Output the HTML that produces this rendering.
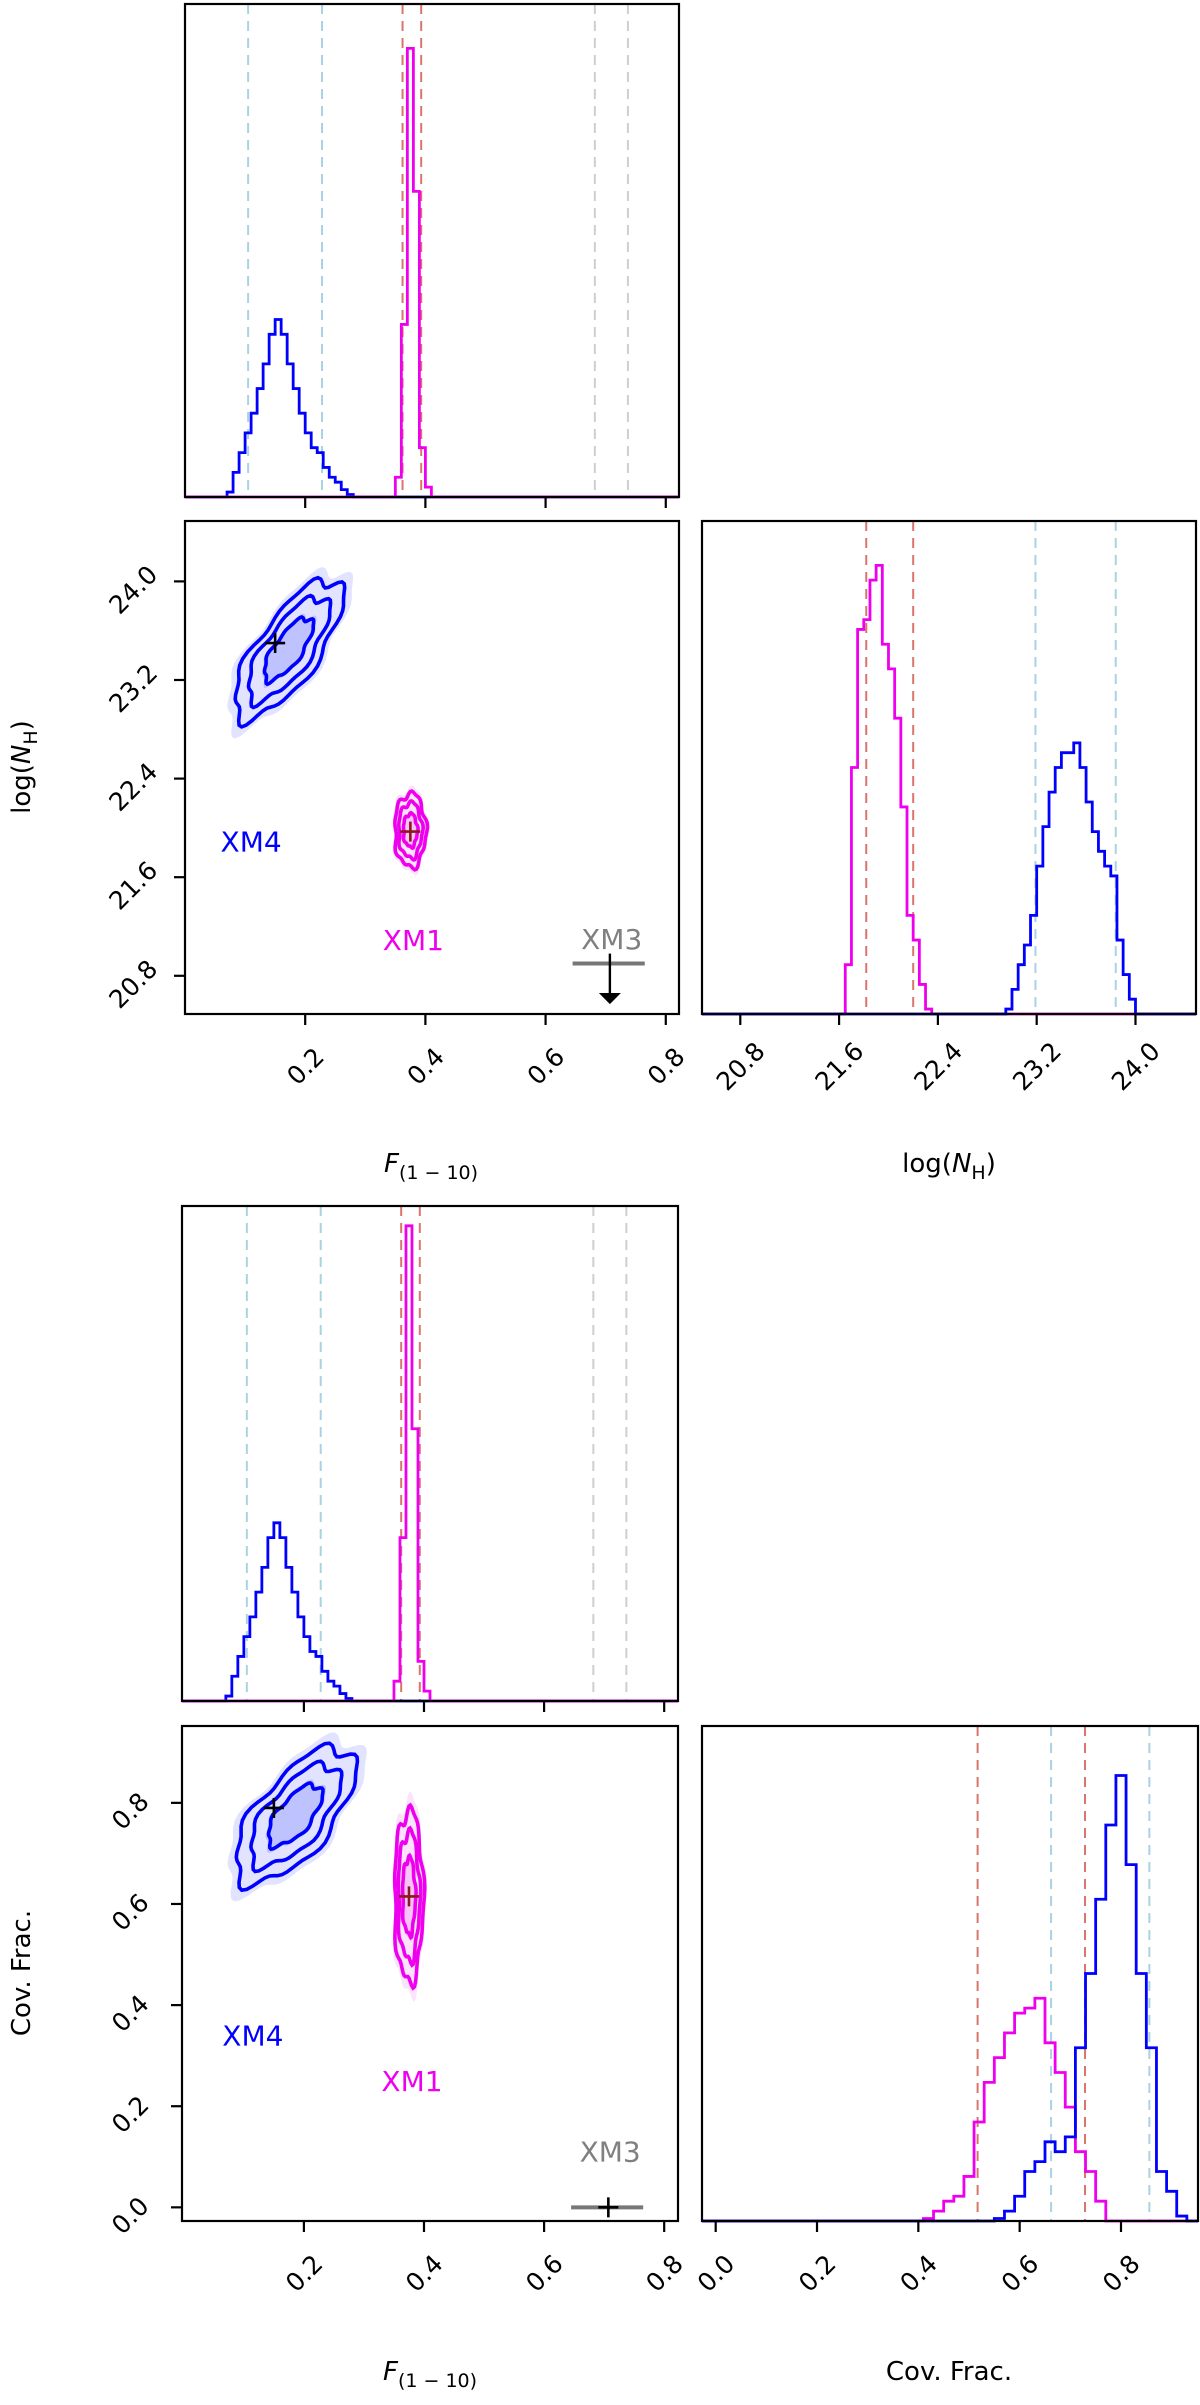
<!DOCTYPE html>
<html><head><meta charset="utf-8"><style>
body{margin:0;background:#fff}
svg{display:block;font-family:"DejaVu Sans","Liberation Sans",sans-serif}
</style></head><body>
<svg id="fig" width="1200" height="2405" viewBox="0 0 1200 2405" xmlns="http://www.w3.org/2000/svg"></svg>
<script>
// ---------- data ----------
const fTicks=[0.2,0.4,0.6,0.8];
const nhTicks=[20.8,21.6,22.4,23.2,24.0];
const covTicks=[0.0,0.2,0.4,0.6,0.8];
const fBinW=0.01;
const fBlueStart=0.07;
const fBlueCounts=[0.01,0.05,0.09,0.13,0.17,0.22,0.27,0.33,0.36,0.33,0.27,0.22,0.17,0.13,0.10,0.09,0.06,0.04,0.03,0.015,0.005];
const fMagStart=0.35;
const fMagCounts=[0.04,0.35,0.91,0.62,0.10,0.02];
const fMagCounts2=[0.04,0.33,0.96,0.55,0.08,0.02];
const fLinesBlue=[0.105,0.228];
const fLinesRed=[0.362,0.393];
const fLinesGray=[0.682,0.737];
const nhBinW=0.05;
const nhMagStart=21.65;
const nhMagCounts=[0.1,0.5,0.78,0.8,0.88,0.91,0.75,0.7,0.6,0.42,0.2,0.15,0.06,0.01];
const nhBlueStart=22.95;
const nhBlueCounts=[0.01,0.05,0.1,0.14,0.2,0.3,0.38,0.45,0.5,0.53,0.53,0.55,0.5,0.43,0.37,0.33,0.3,0.28,0.15,0.08,0.03];
const nhLinesRed=[21.82,22.2];
const nhLinesBlue=[23.19,23.84];
const covBinW=0.02;
const covMagStart=0.41;
const covMagCounts=[0.005,0.02,0.04,0.05,0.09,0.2,0.28,0.33,0.38,0.42,0.43,0.45,0.36,0.3,0.23,0.14,0.1,0.04];
const covBlueStart=0.55;
const covBlueCounts=[0.005,0.02,0.05,0.1,0.12,0.16,0.14,0.17,0.35,0.5,0.65,0.8,0.9,0.72,0.5,0.35,0.1,0.06,0.01];
const covLinesRed=[0.517,0.729];
const covLinesBlue=[0.662,0.856];
// contours: [cx, cy, majorDx, majorDy, minorDx, minorDy]
const c1Blue=[0.172,23.45,0.085,0.52,0.03,-0.22];
const c1Mag=[0.375,21.98,0.0,0.3,0.026,0.0];
const c2Blue=[0.185,0.775,0.095,0.115,0.03,-0.07];
const c2Mag=[0.375,0.615,0.0,0.17,0.024,0.0];
const levels=[0.45,0.75,1.0];
const best1Blue=[0.15,23.5], best1Mag=[0.375,21.97];
const best2Blue=[0.15,0.79], best2Mag=[0.375,0.615];

// ---------- helpers ----------
const svg=document.getElementById('fig');
const NS='http://www.w3.org/2000/svg';
function mk(tag,attrs,parent){const e=document.createElementNS(NS,tag);for(const k in attrs)e.setAttribute(k,attrs[k]);(parent||svg).appendChild(e);return e;}
function axes(x0,y0,w,h,xd,yd){return{x0,y0,w,h,sx:v=>x0+(v-xd[0])/(xd[1]-xd[0])*w,sy:v=>y0+h-(v-yd[0])/(yd[1]-yd[0])*h};}
function frame(a,name){const r=mk('rect',{x:a.x0,y:a.y0,width:a.w,height:a.h,fill:'none',stroke:'#000','stroke-width':2.2});}
function xticks(a,ticks,labels,name){ticks.forEach(t=>{const x=a.sx(t);mk('line',{x1:x,x2:x,y1:a.y0+a.h,y2:a.y0+a.h+11,stroke:'#000','stroke-width':2.2});
 if(labels){const tx=mk('text',{x:x,y:a.y0+a.h+61,'font-size':25,'text-anchor':'middle',transform:`rotate(-45 ${x} ${a.y0+a.h+52})`});tx.textContent=t.toFixed(1);}});}
function yticks(a,ticks,name){ticks.forEach(t=>{const y=a.sy(t);mk('line',{x1:a.x0-11,x2:a.x0,y1:y,y2:y,stroke:'#000','stroke-width':2.2});
 const cx=a.x0-52,cy=y+8;const tx=mk('text',{x:cx,y:cy+9,'font-size':25,'text-anchor':'middle',transform:`rotate(-45 ${cx} ${cy})`});tx.textContent=t.toFixed(1);});}
function hist(a,start,bw,counts,color,name){let d=`M${a.x0} ${a.sy(0)} L${a.sx(start)} ${a.sy(0)}`;counts.forEach((c,i)=>{const xa=a.sx(start+i*bw),xb=a.sx(start+(i+1)*bw);d+=` L${xa} ${a.sy(c)} L${xb} ${a.sy(c)}`;});
 d+=` L${a.sx(start+counts.length*bw)} ${a.sy(0)} L${a.x0+a.w} ${a.sy(0)}`;const p=mk('path',{d,fill:'none',stroke:color,'stroke-width':2.8});}
function vlines(a,vals,color,name){vals.forEach(v=>{const x=a.sx(v);const l=mk('line',{x1:x,x2:x,y1:a.y0,y2:a.y0+a.h,stroke:color,'stroke-width':2,'stroke-dasharray':'10,7'});});}
function ellPath(a,c,s){let d='';for(let i=0;i<=72;i++){const t=i/72*2*Math.PI;const wob=1+0.07*Math.sin(5*t)+0.05*Math.cos(9*t);
 const vx=c[0]+s*wob*(c[2]*Math.cos(t)+c[4]*Math.sin(t)),vy=c[1]+s*wob*(c[3]*Math.cos(t)+c[5]*Math.sin(t));d+=(i?'L':'M')+a.sx(vx).toFixed(1)+' '+a.sy(vy).toFixed(1);}return d+'Z';}
function contours(a,c,color,fill,name){mk('path',{d:ellPath(a,c,1.15),fill:fill,'fill-opacity':0.15,stroke:'none'});mk('path',{d:ellPath(a,c,0.5),fill:fill,'fill-opacity':0.2,stroke:'none'});
 levels.forEach(s=>{const p=mk('path',{d:ellPath(a,c,s),fill:'none',stroke:color,'stroke-width':3.6});});}
function cross(a,pt,color,name){const x=a.sx(pt[0]),y=a.sy(pt[1]);const g=mk('g',{stroke:color,'stroke-width':2.6});mk('line',{x1:x-10,x2:x+10,y1:y,y2:y},g);mk('line',{x1:x,x2:x,y1:y-10,y2:y+10},g);}
function label(x,y,txt,color,name,size){const t=mk('text',{x,y,'font-size':size||28,fill:color,'text-anchor':'middle'});t.textContent=txt;return t;}

// ---------- set 1 ----------
const fd1=[0,0.822], nhd=[20.49,24.49], covd=[-0.027,0.952];
const h1=axes(185,4,494,493,fd1,[0,1]);
vlines(h1,fLinesBlue,'#a9d3e3','f-quantile-line-xm4');vlines(h1,fLinesRed,'#d9756b','f-quantile-line-xm1');vlines(h1,fLinesGray,'#cfcfcf','f-quantile-line-xm3');
hist(h1,fBlueStart,fBinW,fBlueCounts,'#0000ff','hist-f-xm4');hist(h1,fMagStart,fBinW,fMagCounts,'#ee00ee','hist-f-xm1');
frame(h1,'hist-f-panel');xticks(h1,fTicks,false,'hist-f');

const s1=axes(185,521,494,493,fd1,nhd);
contours(s1,c1Blue,'#0000ff','#3344ff','contour-xm4');contours(s1,c1Mag,'#ee00ee','#ee44ee','contour-xm1');
cross(s1,best1Blue,'#000','best-fit-xm4');cross(s1,best1Mag,'#8b1a1a','best-fit-xm1');
label(s1.sx(0.11),s1.sy(21.89)+10,'XM4','#0000ff','label-xm4');label(s1.sx(0.38),s1.sy(21.09)+10,'XM1','#ee00ee','label-xm1');label(s1.sx(0.71),s1.sy(21.1)+10,'XM3','#808080','label-xm3');
mk('line',{x1:s1.sx(0.645),x2:s1.sx(0.765),y1:s1.sy(20.9),y2:s1.sy(20.9),stroke:'#777','stroke-width':4});
mk('line',{x1:s1.sx(0.707),x2:s1.sx(0.707),y1:s1.sy(20.98),y2:s1.sy(20.66),stroke:'#000','stroke-width':2.4});
mk('path',{d:`M${s1.sx(0.707)-11} ${s1.sy(20.66)} L${s1.sx(0.707)+11} ${s1.sy(20.66)} L${s1.sx(0.707)} ${s1.sy(20.57)}Z`,fill:'#000'});
frame(s1,'scatter-f-nh-panel');xticks(s1,fTicks,true,'scatter-f');yticks(s1,nhTicks,'scatter-nh');

const r1=axes(702,521,494,493,nhd,[0,1]);
vlines(r1,nhLinesRed,'#d9756b','nh-quantile-line-xm1');vlines(r1,nhLinesBlue,'#a9d3e3','nh-quantile-line-xm4');
hist(r1,nhMagStart,nhBinW,nhMagCounts,'#ee00ee','hist-nh-xm1');hist(r1,nhBlueStart,nhBinW,nhBlueCounts,'#0000ff','hist-nh-xm4');
frame(r1,'hist-nh-panel');xticks(r1,nhTicks,true,'hist-nh');

let t=mk('text',{x:431,y:1172,'font-size':26,'text-anchor':'middle'});t.innerHTML='<tspan font-style="italic">F</tspan><tspan font-size="19" dy="7">(1 − 10)</tspan>';
t=mk('text',{x:949,y:1172,'font-size':26,'text-anchor':'middle'});t.innerHTML='log(<tspan font-style="italic">N</tspan><tspan font-size="19" dy="7">H</tspan><tspan dy="-7">)</tspan>';
t=mk('text',{x:0,y:0,'font-size':26,'text-anchor':'middle',transform:'translate(30 767) rotate(-90)'});t.innerHTML='log(<tspan font-style="italic">N</tspan><tspan font-size="19" dy="7">H</tspan><tspan dy="-7">)</tspan>';

// ---------- set 2 ----------
const fd2=[-0.003,0.823];
const h2=axes(182,1206,496,495,fd2,[0,1]);
vlines(h2,fLinesBlue,'#a9d3e3','f-quantile-line-xm4');vlines(h2,fLinesRed,'#d9756b','f-quantile-line-xm1');vlines(h2,fLinesGray,'#cfcfcf','f-quantile-line-xm3');
hist(h2,fBlueStart,fBinW,fBlueCounts,'#0000ff','hist-f-xm4-2');hist(h2,fMagStart,fBinW,fMagCounts2,'#ee00ee','hist-f-xm1-2');
frame(h2,'hist-f-panel-2');xticks(h2,fTicks,false,'hist-f-2');

const s2=axes(182,1726,496,495,fd2,covd);
contours(s2,c2Blue,'#0000ff','#3344ff','contour-xm4-2');contours(s2,c2Mag,'#ee00ee','#ee44ee','contour-xm1-2');
cross(s2,best2Blue,'#000','best-fit-xm4-2');cross(s2,best2Mag,'#8b1a1a','best-fit-xm1-2');
label(s2.sx(0.115),s2.sy(0.34)+10,'XM4','#0000ff','label-xm4-2');label(s2.sx(0.38),s2.sy(0.25)+10,'XM1','#ee00ee','label-xm1-2');label(s2.sx(0.71),s2.sy(0.11)+10,'XM3','#808080','label-xm3-2');
mk('line',{x1:s2.sx(0.645),x2:s2.sx(0.765),y1:s2.sy(0),y2:s2.sy(0),stroke:'#777','stroke-width':4});
cross(s2,[0.707,0],'#000','xm3-marker-2');
frame(s2,'scatter-f-cov-panel');xticks(s2,fTicks,true,'scatter-f-2');yticks(s2,covTicks,'scatter-cov');

const r2=axes(702,1726,496,495,covd,[0,1]);
vlines(r2,covLinesRed,'#d9756b','cov-quantile-line-xm1');vlines(r2,covLinesBlue,'#a9d3e3','cov-quantile-line-xm4');
hist(r2,covMagStart,covBinW,covMagCounts,'#ee00ee','hist-cov-xm1');hist(r2,covBlueStart,covBinW,covBlueCounts,'#0000ff','hist-cov-xm4');
frame(r2,'hist-cov-panel');xticks(r2,covTicks,true,'hist-cov');

t=mk('text',{x:430,y:2380,'font-size':26,'text-anchor':'middle'});t.innerHTML='<tspan font-style="italic">F</tspan><tspan font-size="19" dy="7">(1 − 10)</tspan>';
t=mk('text',{x:949,y:2380,'font-size':26,'text-anchor':'middle'});t.textContent='Cov. Frac.';
t=mk('text',{x:0,y:0,'font-size':26,'text-anchor':'middle',transform:'translate(30 1973) rotate(-90)'});t.textContent='Cov. Frac.';
</script>
</body></html>
